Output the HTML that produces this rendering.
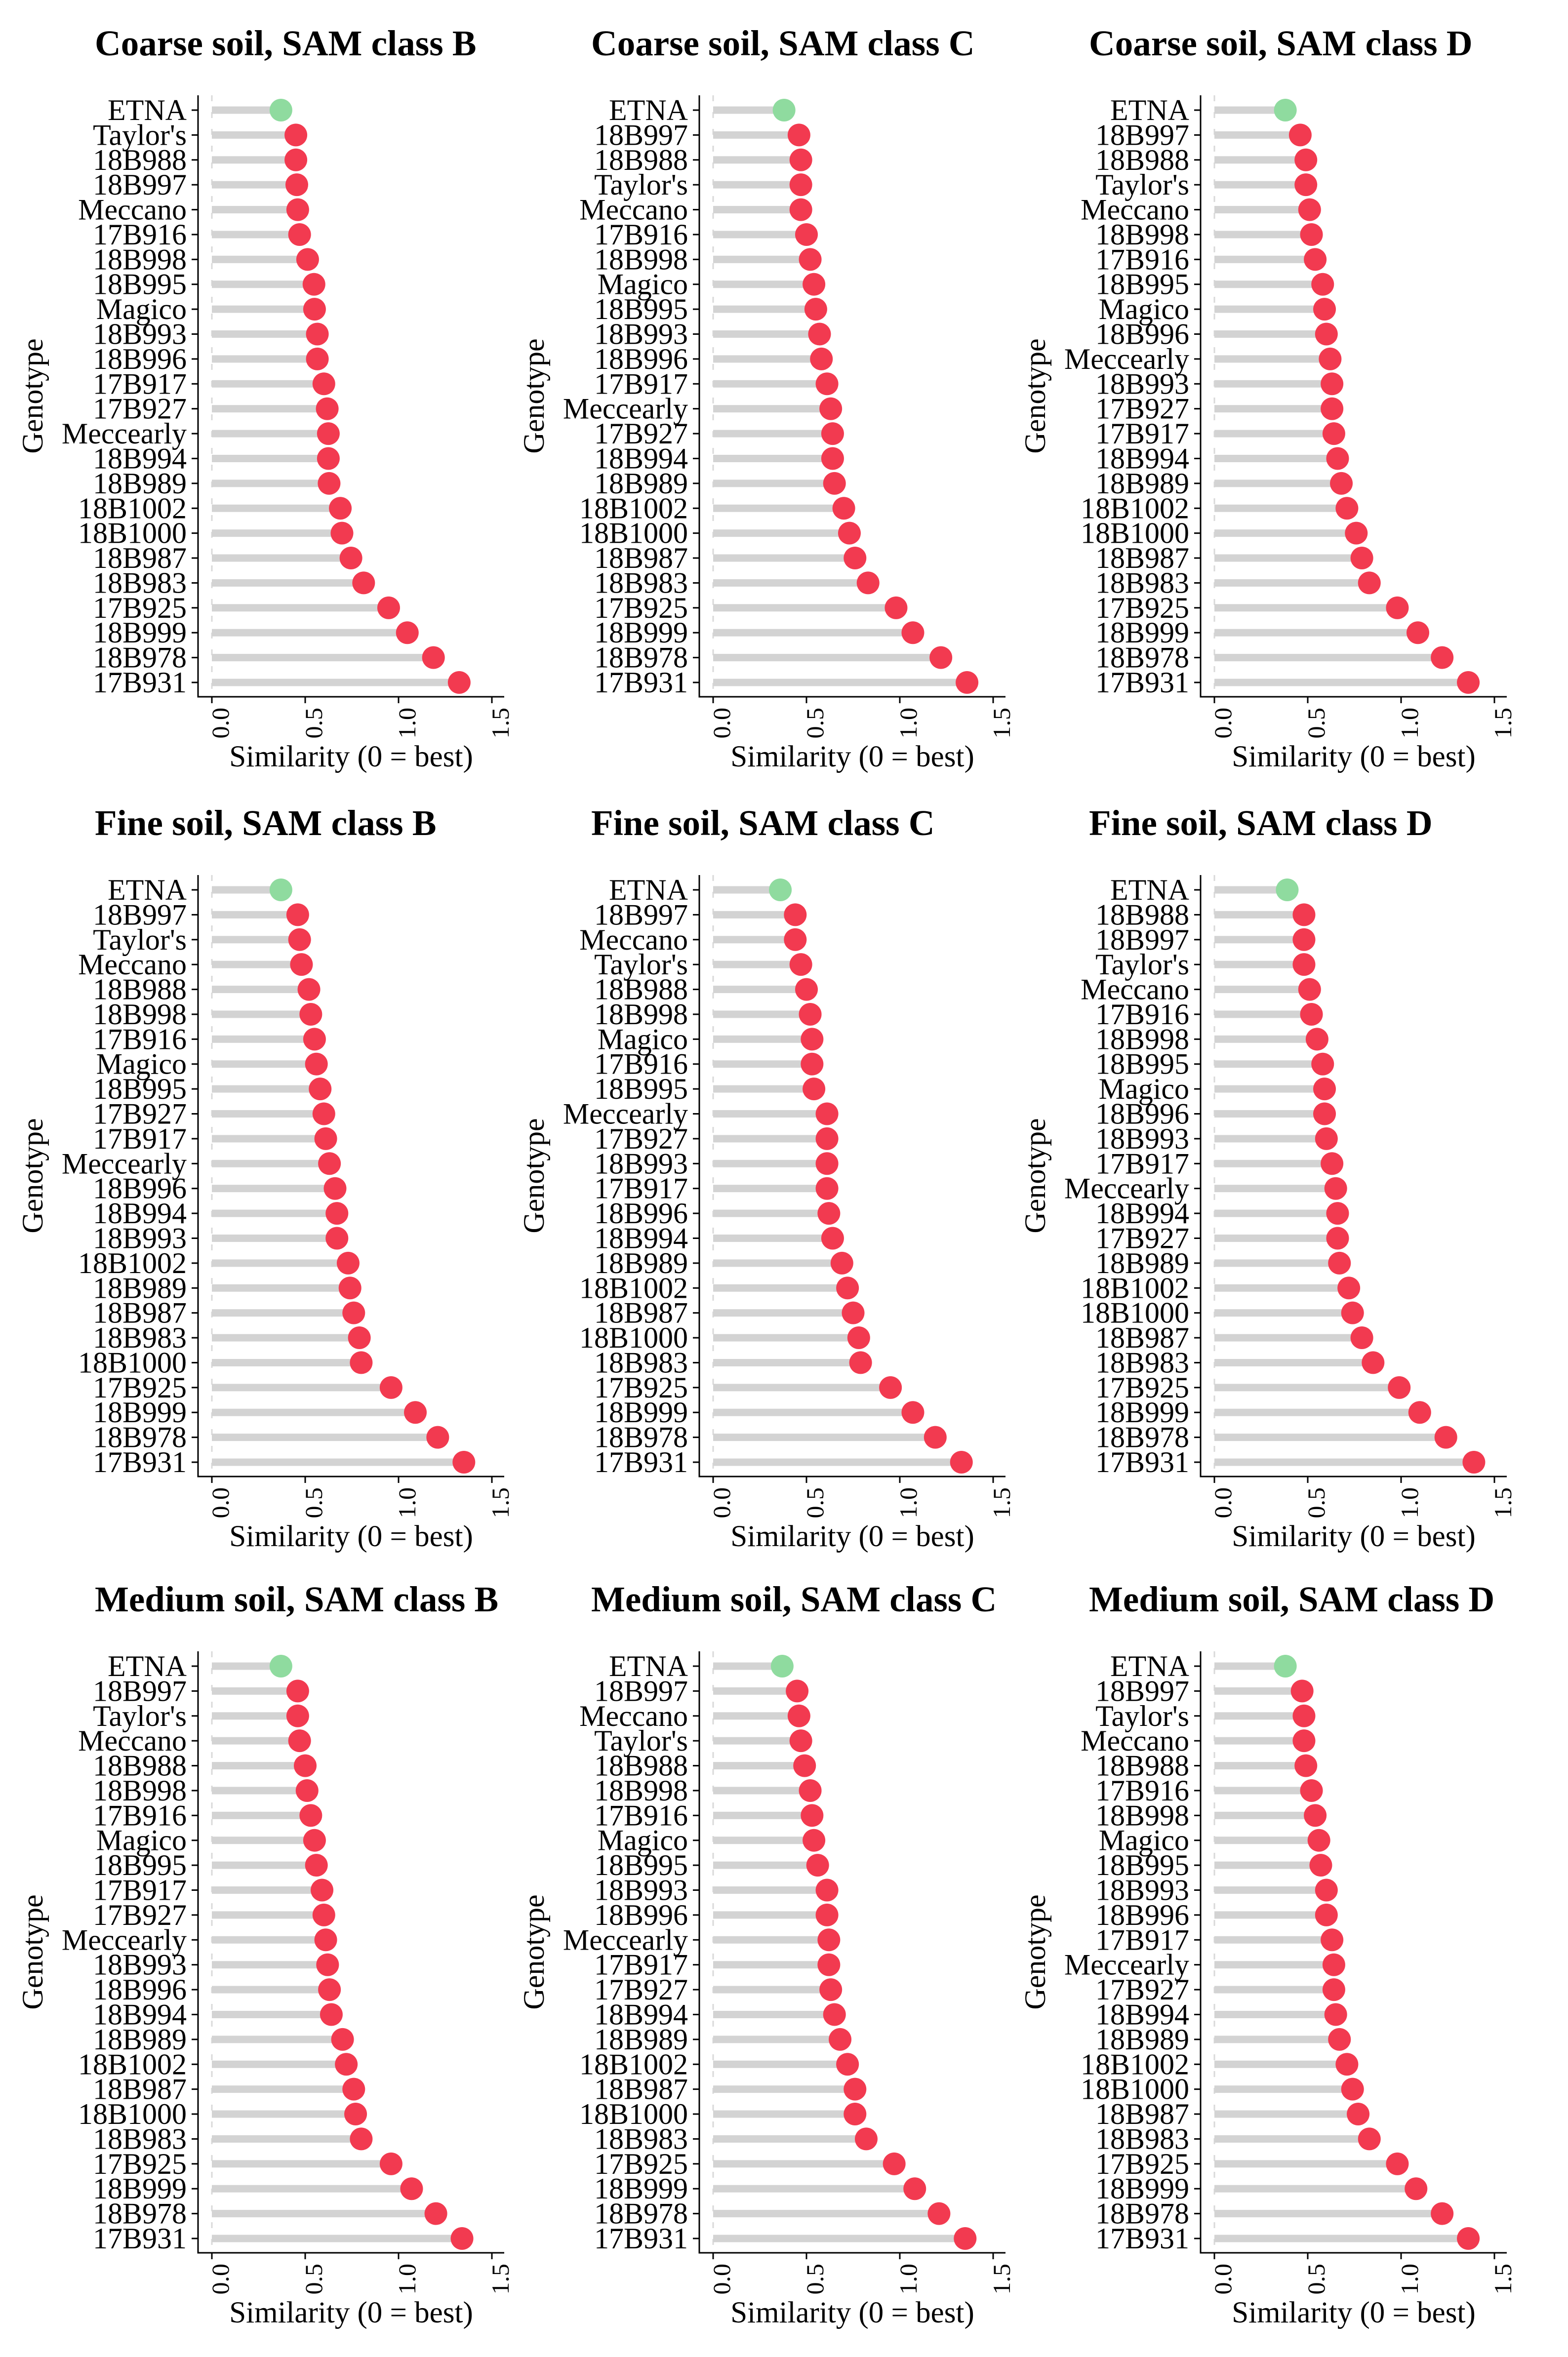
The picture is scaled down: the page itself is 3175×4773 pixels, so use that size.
<!DOCTYPE html>
<html><head><meta charset="utf-8">
<style>
html,body{margin:0;padding:0;background:#fff;}
svg{display:block;font-family:"Liberation Serif",serif;}
</style></head>
<body>
<svg id="chart" width="3175" height="4773" viewBox="0 0 3175 4773" xmlns="http://www.w3.org/2000/svg">
<rect x="0" y="0" width="3175" height="4773" fill="#fff"/>
</svg>
<script>
const titles = [
  "Coarse soil, SAM class B","Coarse soil, SAM class C","Coarse soil, SAM class D",
  "Fine soil, SAM class B","Fine soil, SAM class C","Fine soil, SAM class D",
  "Medium soil, SAM class B","Medium soil, SAM class C","Medium soil, SAM class D"];
const xTicks = [0, 0.5, 1.0, 1.5];
const xTickLabels = ["0.0","0.5","1.0","1.5"];

const coarseB_genotypes = ["ETNA","Taylor's","18B988","18B997","Meccano","17B916","18B998","18B995","Magico","18B993","18B996","17B917","17B927","Meccearly","18B994","18B989","18B1002","18B1000","18B987","18B983","17B925","18B999","18B978","17B931"];
const coarseB_values = [0.37,0.45,0.45,0.455,0.46,0.47,0.513,0.547,0.55,0.565,0.565,0.60,0.618,0.624,0.624,0.628,0.688,0.697,0.745,0.813,0.947,1.047,1.187,1.325];

const coarseC_genotypes = ["ETNA","18B997","18B988","Taylor's","Meccano","17B916","18B998","Magico","18B995","18B993","18B996","17B917","Meccearly","17B927","18B994","18B989","18B1002","18B1000","18B987","18B983","17B925","18B999","18B978","17B931"];
const coarseC_values = [0.38,0.46,0.47,0.47,0.47,0.50,0.52,0.54,0.55,0.57,0.58,0.61,0.63,0.64,0.64,0.65,0.70,0.73,0.76,0.83,0.98,1.07,1.22,1.36];

const coarseD_genotypes = ["ETNA","18B997","18B988","Taylor's","Meccano","18B998","17B916","18B995","Magico","18B996","Meccearly","18B993","17B927","17B917","18B994","18B989","18B1002","18B1000","18B987","18B983","17B925","18B999","18B978","17B931"];
const coarseD_values = [0.38,0.46,0.49,0.49,0.51,0.52,0.54,0.58,0.59,0.60,0.62,0.63,0.63,0.64,0.66,0.68,0.71,0.76,0.79,0.83,0.98,1.09,1.22,1.36];

const fineB_genotypes = ["ETNA","18B997","Taylor's","Meccano","18B988","18B998","17B916","Magico","18B995","17B927","17B917","Meccearly","18B996","18B994","18B993","18B1002","18B989","18B987","18B983","18B1000","17B925","18B999","18B978","17B931"];
const fineB_values = [0.37,0.46,0.47,0.48,0.52,0.53,0.55,0.56,0.58,0.60,0.61,0.63,0.66,0.67,0.67,0.73,0.74,0.76,0.79,0.80,0.96,1.09,1.21,1.35];

const fineC_genotypes = ["ETNA","18B997","Meccano","Taylor's","18B988","18B998","Magico","17B916","18B995","Meccearly","17B927","18B993","17B917","18B996","18B994","18B989","18B1002","18B987","18B1000","18B983","17B925","18B999","18B978","17B931"];
const fineC_values = [0.36,0.44,0.44,0.47,0.50,0.52,0.53,0.53,0.54,0.61,0.61,0.61,0.61,0.62,0.64,0.69,0.72,0.75,0.78,0.79,0.95,1.07,1.19,1.33];

const fineD_genotypes = ["ETNA","18B988","18B997","Taylor's","Meccano","17B916","18B998","18B995","Magico","18B996","18B993","17B917","Meccearly","18B994","17B927","18B989","18B1002","18B1000","18B987","18B983","17B925","18B999","18B978","17B931"];
const fineD_values = [0.39,0.48,0.48,0.48,0.51,0.52,0.55,0.58,0.59,0.59,0.60,0.63,0.65,0.66,0.66,0.67,0.72,0.74,0.79,0.85,0.99,1.10,1.24,1.39];

const mediumB_genotypes = ["ETNA","18B997","Taylor's","Meccano","18B988","18B998","17B916","Magico","18B995","17B917","17B927","Meccearly","18B993","18B996","18B994","18B989","18B1002","18B987","18B1000","18B983","17B925","18B999","18B978","17B931"];
const mediumB_values = [0.37,0.46,0.46,0.47,0.50,0.51,0.53,0.55,0.56,0.59,0.60,0.61,0.62,0.63,0.64,0.70,0.72,0.76,0.77,0.80,0.96,1.07,1.20,1.34];

const mediumC_genotypes = ["ETNA","18B997","Meccano","Taylor's","18B988","18B998","17B916","Magico","18B995","18B993","18B996","Meccearly","17B917","17B927","18B994","18B989","18B1002","18B987","18B1000","18B983","17B925","18B999","18B978","17B931"];
const mediumC_values = [0.37,0.45,0.46,0.47,0.49,0.52,0.53,0.54,0.56,0.61,0.61,0.62,0.62,0.63,0.65,0.68,0.72,0.76,0.76,0.82,0.97,1.08,1.21,1.35];

const mediumD_genotypes = ["ETNA","18B997","Taylor's","Meccano","18B988","17B916","18B998","Magico","18B995","18B993","18B996","17B917","Meccearly","17B927","18B994","18B989","18B1002","18B1000","18B987","18B983","17B925","18B999","18B978","17B931"];
const mediumD_values = [0.38,0.47,0.48,0.48,0.49,0.52,0.54,0.56,0.57,0.60,0.60,0.63,0.64,0.64,0.65,0.67,0.71,0.74,0.77,0.83,0.98,1.08,1.22,1.36];

const panelGenotypes = [coarseB_genotypes,coarseC_genotypes,coarseD_genotypes,fineB_genotypes,fineC_genotypes,fineD_genotypes,mediumB_genotypes,mediumC_genotypes,mediumD_genotypes];
const panelValues = [coarseB_values,coarseC_values,coarseD_values,fineB_values,fineC_values,fineD_values,mediumB_values,mediumC_values,mediumD_values];

const NS = "http://www.w3.org/2000/svg";
const svg = document.getElementById("chart");
function mk(tag, attrs, parent){
  const e = document.createElementNS(NS, tag);
  for (const k in attrs) e.setAttribute(k, attrs[k]);
  (parent||svg).appendChild(e);
  return e;
}
const colOff = [0, 1015, 2030];
const rowOff = [0, 1579, 3151];
const titleX = [192, 1197, 2205];

for (let p = 0; p < 9; p++) {
  const col = p % 3;
  const ox = colOff[col], oy = rowOff[Math.floor(p / 3)];
  const g = mk("g", {transform: "translate(" + ox + "," + oy + ")"});
  
  
  const xScale = v => 429 + v * 378;
  const n = panelGenotypes[p].length;
  const yScale = i => 223 + i * (1382 - 223) / (n - 1);

  const t = mk("text", {x: titleX[col] - ox, y: 112, "text-anchor": "start", "font-size": 73, "font-weight": "bold"}, g);
  t.textContent = titles[p];
  
  

  const dash = mk("line", {x1: xScale(0), x2: xScale(0), y1: 193, y2: 1411, stroke: "#d9d9d9", "stroke-width": 3, "stroke-dasharray": "12 22"}, g);
  
  

  for (let i = 0; i < n; i++) {
    const y = yScale(i), v = panelValues[p][i];
    const bar = mk("rect", {x: xScale(0), y: y - 7.5, width: Math.max(0, xScale(v) - xScale(0)), height: 15, fill: "#d3d3d3"}, g);
    
    
  }
  for (let i = 0; i < n; i++) {
    const y = yScale(i), v = panelValues[p][i];
    const dot = mk("circle", {cx: xScale(v), cy: y, r: 23, fill: panelGenotypes[p][i] === "ETNA" ? "#8fdb9f" : "#f23a50"}, g);
    
    
    const tk = mk("line", {x1: 388, x2: 401, y1: y, y2: y, stroke: "#000", "stroke-width": 3}, g);
    
    
    const lb = mk("text", {x: 378, y: y + 20, "text-anchor": "end", "font-size": 60}, g);
    lb.textContent = panelGenotypes[p][i];
    
    
  }
  const ya = mk("line", {x1: 401, x2: 401, y1: 193, y2: 1412.5, stroke: "#000", "stroke-width": 3}, g);
  
  
  const xa = mk("line", {x1: 399.5, x2: 1021, y1: 1411, y2: 1411, stroke: "#000", "stroke-width": 3}, g);
  
  
  for (let k = 0; k < xTicks.length; k++) {
    const x = xScale(xTicks[k]);
    const tk = mk("line", {x1: x, x2: x, y1: 1411, y2: 1424, stroke: "#000", "stroke-width": 3}, g);
    
    
    const lb = mk("text", {transform: "translate(" + (x + 34) + ",1433) rotate(-90)", "text-anchor": "end", "font-size": 50}, g);
    lb.textContent = xTickLabels[k];
    
    
  }
  const xt = mk("text", {x: 711, y: 1552, "text-anchor": "middle", "font-size": 61}, g);
  xt.textContent = "Similarity (0 = best)";
  
  
  const yt = mk("text", {transform: "translate(86,802) rotate(-90)", "text-anchor": "middle", "font-size": 60}, g);
  yt.textContent = "Genotype";
  
  
}
</script>
</body></html>
